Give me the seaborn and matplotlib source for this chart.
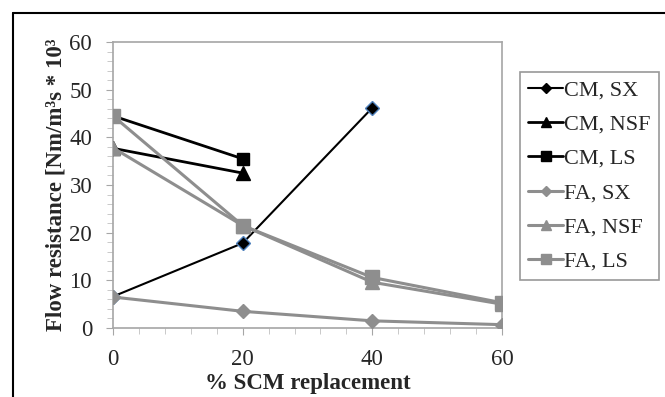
import matplotlib
matplotlib.use("Agg")
import matplotlib.pyplot as plt
import seaborn as sns
import pandas as pd
import numpy as np
from matplotlib.lines import Line2D
from matplotlib.ticker import MultipleLocator

sns.set_style("white")
plt.rcParams['font.family'] = ['Liberation Serif', 'DejaVu Serif']

# Data
x_cm = [0, 20]
x_cm_sx = [0, 20, 40]
x_fa = [0, 20, 40, 60]
cm_sx = [6.6, 17.8, 46.2]
cm_nsf = [37.7, 32.5]
cm_ls = [44.5, 35.5]
fa_sx = [6.5, 3.5, 1.5, 0.7]
fa_nsf = [37.8, 21.5, 9.6, 5.0]
fa_ls = [44.5, 21.5, 10.6, 5.3]

series_names = ["CM, SX", "CM, NSF", "CM, LS", "FA, SX", "FA, NSF", "FA, LS"]
xs = [x_cm_sx, x_cm, x_cm, x_fa, x_fa, x_fa]
ys = [cm_sx, cm_nsf, cm_ls, fa_sx, fa_nsf, fa_ls]

frames = []
for n, xx, yy in zip(series_names, xs, ys):
    frames.append(pd.DataFrame({"x": xx, "y": yy, "series": n}))
df = pd.concat(frames, ignore_index=True)

black = "#000000"
gray = "#8e8e8e"
styles = {
    "CM, SX": dict(color=black, marker="D", ms=7, mec="#4f81bd", mew=1.0, lw=1.5),
    "CM, NSF": dict(color=black, marker="^", ms=10, mec=black, mew=1.0, lw=2.0),
    "CM, LS": dict(color=black, marker="s", ms=9, mec=black, mew=1.0, lw=2.0),
    "FA, SX": dict(color=gray, marker="D", ms=7, mec=gray, mew=1.0, lw=2.2),
    "FA, NSF": dict(color=gray, marker="^", ms=10, mec=gray, mew=1.0, lw=2.2),
    "FA, LS": dict(color=gray, marker="s", ms=10, mec=gray, mew=1.0, lw=2.2),
}

fig = plt.figure(figsize=(6.65, 3.97), dpi=100)
ax = fig.add_axes([113/665, 1-328/397, (502-113)/665, (328-42)/397])

handles = []
for n in series_names:
    s = styles[n]
    sub = df[df["series"] == n]
    sns.lineplot(data=sub, x="x", y="y", ax=ax, color=s["color"], lw=s["lw"],
                 marker=s["marker"], markersize=s["ms"], markeredgecolor=s["mec"],
                 markeredgewidth=s["mew"], legend=False, zorder=3)
    handles.append(Line2D([], [], color=s["color"], lw=s["lw"], marker=s["marker"],
                          markersize=s["ms"]*0.75, markeredgecolor=s["color"],
                          markerfacecolor=s["color"]))

ax.set_xlim(0, 60)
ax.set_ylim(0, 60)
ax.set_xticks([0, 20, 40, 60])
ax.set_yticks([0, 10, 20, 30, 40, 50, 60])
ax.xaxis.set_minor_locator(MultipleLocator(4))
ax.yaxis.set_minor_locator(MultipleLocator(2))
for sp in ax.spines.values():
    sp.set_color("#a6a6a6")
    sp.set_linewidth(1.2)
ax.tick_params(axis="both", which="major", direction="out", length=5, color="#a6a6a6",
               labelsize=16.5, left=True, bottom=True)
ax.tick_params(axis="x", which="major", pad=10)
ax.tick_params(axis="y", which="major", pad=10)
ax.tick_params(axis="both", which="minor", direction="out", length=4, color="#c0c0c0",
               left=True, bottom=True)
ax.set_xlabel("% SCM replacement", fontsize=16.5, fontweight="bold", labelpad=2)
ax.set_ylabel("Flow resistance [Nm/m³s * 10³", fontsize=16.5, fontweight="bold", labelpad=2)

leg = fig.legend(handles, series_names, loc="upper left",
                 bbox_to_anchor=(520/665, 1-72/397), fontsize=16, frameon=True,
                 fancybox=False, edgecolor="#7f7f7f", handlelength=1.6,
                 handletextpad=0.05, labelspacing=0.62, borderpad=0.35,
                 borderaxespad=0)
leg.get_frame().set_linewidth(1.2)

# outer figure border (top and left visible)
fig.add_artist(Line2D([13/665, 1.0], [1-13/397, 1-13/397], color="black", lw=1.5,
                      transform=fig.transFigure))
fig.add_artist(Line2D([13/665, 13/665], [0.0, 1-13/397], color="black", lw=1.5,
                      transform=fig.transFigure))

fig.savefig("out.png", dpi=100)
